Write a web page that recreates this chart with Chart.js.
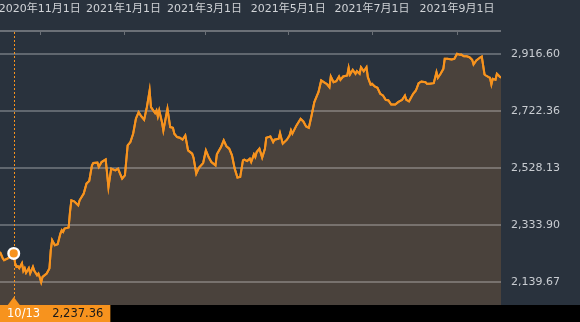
<!DOCTYPE html>
<html lang="ja">
<head>
<meta charset="utf-8">
<title>chart</title>
<script src="https://cdn.jsdelivr.net/npm/chart.js@4.4.1/dist/chart.umd.min.js"></script>
<style>
  html, body { margin: 0; padding: 0; background: #29323d; }
  canvas { display: block; }
</style>
</head>
<body>
<canvas id="grafico" width="580" height="322"></canvas>
<script>
// dados (data, valor)
const dates = [
  "2020-10-03","2020-10-05","2020-10-06","2020-10-09","2020-10-13","2020-10-14","2020-10-15","2020-10-16","2020-10-17","2020-10-19",
  "2020-10-20","2020-10-21","2020-10-22","2020-10-24","2020-10-25","2020-10-27","2020-10-28","2020-10-30","2020-10-31","2020-11-01",
  "2020-11-02","2020-11-03","2020-11-06","2020-11-08","2020-11-09","2020-11-10","2020-11-12","2020-11-14","2020-11-16","2020-11-17",
  "2020-11-18","2020-11-19","2020-11-22","2020-11-23","2020-11-24","2020-11-26","2020-11-29","2020-11-30","2020-12-03","2020-12-05",
  "2020-12-07","2020-12-09","2020-12-10","2020-12-13","2020-12-14","2020-12-16","2020-12-19","2020-12-21","2020-12-23","2020-12-26",
  "2020-12-28","2020-12-29","2020-12-31","2021-01-02","2021-01-03","2021-01-04","2021-01-06","2021-01-08","2021-01-10","2021-01-12",
  "2021-01-14","2021-01-16","2021-01-18","2021-01-20","2021-01-21","2021-01-24","2021-01-25","2021-01-26","2021-01-27","2021-01-29",
  "2021-01-30","2021-02-02","2021-02-04","2021-02-06","2021-02-07","2021-02-09","2021-02-11","2021-02-13","2021-02-15","2021-02-17",
  "2021-02-20","2021-02-21","2021-02-23","2021-02-25","2021-02-28","2021-03-02","2021-03-04","2021-03-06","2021-03-09","2021-03-10",
  "2021-03-13","2021-03-15","2021-03-17","2021-03-19","2021-03-21","2021-03-23","2021-03-25","2021-03-27","2021-03-29","2021-03-30",
  "2021-04-01","2021-04-03","2021-04-04","2021-04-06","2021-04-07","2021-04-08","2021-04-10","2021-04-12","2021-04-14","2021-04-15",
  "2021-04-18","2021-04-20","2021-04-21","2021-04-24","2021-04-25","2021-04-27","2021-04-30","2021-05-02","2021-05-03","2021-05-04",
  "2021-05-07","2021-05-10","2021-05-12","2021-05-14","2021-05-16","2021-05-18","2021-05-20","2021-05-22","2021-05-23","2021-05-25",
  "2021-05-28","2021-05-29","2021-05-31","2021-06-01","2021-06-03","2021-06-05","2021-06-07","2021-06-08","2021-06-10","2021-06-13",
  "2021-06-14","2021-06-15","2021-06-17","2021-06-19","2021-06-20","2021-06-22","2021-06-23","2021-06-25","2021-06-27","2021-06-28",
  "2021-06-30","2021-07-01","2021-07-03","2021-07-05","2021-07-07","2021-07-09","2021-07-11","2021-07-13","2021-07-15","2021-07-18",
  "2021-07-20","2021-07-23","2021-07-25","2021-07-26","2021-07-28","2021-07-29","2021-07-31","2021-08-02","2021-08-04","2021-08-06",
  "2021-08-09","2021-08-10","2021-08-12","2021-08-15","2021-08-17","2021-08-18","2021-08-20","2021-08-22","2021-08-23","2021-08-25",
  "2021-08-28","2021-08-30","2021-09-01","2021-09-03","2021-09-04","2021-09-06","2021-09-08","2021-09-10","2021-09-12","2021-09-13",
  "2021-09-15","2021-09-18","2021-09-19","2021-09-21","2021-09-22","2021-09-24","2021-09-25","2021-09-26","2021-09-27","2021-09-29",
  "2021-09-30","2021-10-02","2021-10-03"
];
const values = [
  2242.6, 2221.2, 2214.4, 2221.2, 2237.36, 2204.2, 2191.7, 2194.0, 2187.2, 2204.2,
  2178.1, 2187.2, 2171.3, 2187.2, 2169.2, 2191.7, 2178.1, 2163.4, 2169.2, 2155.6,
  2139.67, 2157.7, 2169.2, 2186.2, 2248.4, 2282.4, 2265.4, 2268.8, 2305.1, 2316.3,
  2310.6, 2322.1, 2325.5, 2378.5, 2418.2, 2414.8, 2401.2, 2418.2, 2441.0, 2475.0,
  2483.8, 2537.1, 2545.0, 2546.3, 2531.4, 2548.4, 2557.5, 2463.4, 2525.9, 2520.2,
  2525.9, 2514.4, 2492.0, 2503.2, 2554.1, 2605.1, 2616.3, 2644.8, 2695.8, 2718.2,
  2703.6, 2692.4, 2735.2, 2791.9, 2735.2, 2714.8, 2724.0, 2703.6, 2724.0, 2684.2,
  2656.0, 2729.8, 2667.3, 2665.2, 2644.8, 2633.3, 2631.2, 2624.5, 2639.1, 2588.1,
  2576.9, 2563.3, 2509.0, 2529.3, 2545.0, 2588.1, 2565.3, 2548.4, 2537.1, 2574.5,
  2599.3, 2622.1, 2601.7, 2593.9, 2571.1, 2525.9, 2495.4, 2497.4, 2554.1, 2556.5,
  2551.8, 2559.9, 2548.4, 2574.5, 2565.3, 2582.3, 2593.9, 2563.3, 2593.9, 2631.2,
  2635.7, 2616.3, 2624.5, 2627.8, 2646.9, 2610.9, 2624.5, 2639.1, 2656.0, 2644.8,
  2673.0, 2695.8, 2686.6, 2669.6, 2665.2, 2707.0, 2752.2, 2774.9, 2786.2, 2825.9,
  2816.7, 2814.7, 2803.1, 2839.5, 2820.1, 2823.5, 2839.5, 2828.3, 2839.5, 2842.9,
  2869.0, 2846.3, 2862.2, 2848.7, 2857.5, 2848.7, 2871.1, 2857.5, 2871.1, 2837.1,
  2812.3, 2814.7, 2805.5, 2801.1, 2780.7, 2774.9, 2760.3, 2758.0, 2744.4, 2744.4,
  2752.2, 2760.3, 2774.9, 2760.3, 2754.6, 2763.7, 2780.7, 2791.9, 2816.7, 2822.5,
  2820.1, 2814.7, 2814.7, 2816.7, 2854.1, 2835.1, 2848.7, 2865.6, 2899.6, 2899.6,
  2897.2, 2899.6, 2916.6, 2913.2, 2914.2, 2908.4, 2908.4, 2905.0, 2896.2, 2880.2,
  2893.8, 2905.0, 2907.4, 2846.3, 2842.9, 2837.1, 2835.1, 2812.3, 2831.7, 2828.3,
  2848.7, 2839.5, 2835.1
];

// rótulos dos eixos
const yTicks = [2139.67, 2333.90, 2528.13, 2722.36, 2916.60];
const xTickDates = ["2020-11-01", "2021-01-01", "2021-03-01", "2021-05-01", "2021-07-01", "2021-09-01"];
const markDate = "2020-10-13";

const laranja = "#f7931e";
const cinzaEixo = "#6b7077";

// converte "aaaa-mm-dd" em número de dias
function toDay(s) {
  const p = s.split("-");
  return Date.UTC(+p[0], +p[1] - 1, +p[2]) / 86400000;
}
function jpLabel(s) {
  const p = s.split("-");
  return `${+p[0]}年${+p[1]}月${+p[2]}日`;
}
function fmt(v) {
  return v.toLocaleString("en-US", { minimumFractionDigits: 2, maximumFractionDigits: 2 });
}

const pontos = dates.map((d, i) => ({ x: toDay(d), y: values[i] }));
const faixa = yTicks[yTicks.length - 1] - yTicks[0];

Chart.defaults.font.family = "'DejaVu Sans', 'Noto Sans CJK JP', sans-serif";
Chart.defaults.font.size = 11;

// fundo escuro
const fundo = {
  id: "fundo",
  beforeDraw(chart) {
    const ctx = chart.ctx;
    ctx.save();
    ctx.fillStyle = "#29323d";
    ctx.fillRect(0, 0, chart.width, chart.height);
    ctx.restore();
  }
};

// linha por cima da grade, eixo superior, cursor e etiqueta embaixo
const destaque = {
  id: "destaque",
  afterDraw(chart) {
    const { ctx, chartArea, scales } = chart;
    const area = chartArea;
    const largArea = area.right - area.left;

    ctx.save();
    ctx.beginPath();
    ctx.rect(area.left, area.top - 2, largArea, area.bottom - area.top + 2);
    ctx.clip();
    chart.getDatasetMeta(0).dataset.draw(ctx, area);
    ctx.restore();

    // linha do eixo x (só na largura da área) e marquinhas para dentro
    ctx.save();
    ctx.beginPath();
    ctx.rect(area.left, 0, largArea, area.top + 6);
    ctx.clip();
    ctx.fillStyle = cinzaEixo;
    ctx.fillRect(area.left, Math.round(area.top) - 1, largArea, 2);
    scales.x.ticks.forEach((t) => {
      const tx = Math.round(scales.x.getPixelForValue(t.value));
      ctx.fillRect(tx, Math.round(area.top) + 1, 1, 3);
    });
    ctx.restore();

    const i = dates.indexOf(markDate);
    const px = scales.x.getPixelForValue(toDay(markDate));
    const py = scales.y.getPixelForValue(values[i]);
    const lx = Math.round(px) + 0.5;

    // linha pontilhada vertical
    ctx.save();
    ctx.strokeStyle = laranja;
    ctx.lineWidth = 1;
    ctx.setLineDash([2, 2]);
    ctx.beginPath();
    ctx.moveTo(lx, area.top + 1);
    ctx.lineTo(lx, area.bottom);
    ctx.stroke();
    ctx.restore();

    // faixa preta embaixo
    ctx.save();
    ctx.fillStyle = "#000";
    ctx.fillRect(0, area.bottom, chart.width, chart.height - area.bottom);

    // triângulo apontando o cursor
    ctx.fillStyle = laranja;
    ctx.beginPath();
    ctx.moveTo(px - 6, area.bottom);
    ctx.lineTo(px + 6, area.bottom);
    ctx.lineTo(px, area.bottom - 8);
    ctx.closePath();
    ctx.fill();

    // caixa com data e valor
    const p = markDate.split("-");
    const txtData = `${+p[1]}/${+p[2]}`;
    const txtValor = fmt(values[i]);
    ctx.font = "11.5px 'DejaVu Sans', sans-serif";
    const w1 = ctx.measureText(txtData).width;
    const w2 = ctx.measureText(txtValor).width;
    const largura = 7 + w1 + 12 + w2 + 7;
    ctx.fillRect(0, area.bottom, largura, chart.height - area.bottom);
    ctx.textBaseline = "middle";
    const ty = area.bottom + (chart.height - area.bottom) / 2 + 1;
    ctx.fillStyle = "#ffffff";
    ctx.fillText(txtData, 7, ty);
    ctx.fillStyle = "#1a1a1a";
    ctx.fillText(txtValor, 7 + w1 + 12, ty);
    ctx.restore();

    // marcador
    ctx.save();
    ctx.beginPath();
    ctx.arc(px, py, 5.3, 0, Math.PI * 2);
    ctx.fillStyle = laranja;
    ctx.fill();
    ctx.lineWidth = 2.4;
    ctx.strokeStyle = "#ffffff";
    ctx.stroke();
    ctx.restore();
  }
};

const ctx = document.getElementById("grafico").getContext("2d");

new Chart(ctx, {
  type: "line",
  data: {
    datasets: [
      {
        data: pontos,
        borderColor: laranja,
        borderWidth: 2,
        backgroundColor: "#4a423c",
        fill: "start",
        pointRadius: 0,
        pointHoverRadius: 0,
        tension: 0
      }
    ]
  },
  options: {
    responsive: false,
    animation: false,
    events: [],
    layout: { padding: { left: 0, right: 0, top: 0, bottom: 17 } },
    plugins: {
      legend: { display: false },
      tooltip: { enabled: false }
    },
    scales: {
      x: {
        type: "linear",
        position: "top",
        min: pontos[0].x,
        max: pontos[pontos.length - 1].x,
        grid: { display: false },
        border: { display: false },
        afterBuildTicks: (scale) => {
          scale.ticks = xTickDates.map((d) => ({ value: toDay(d) }));
        },
        afterFit: (scale) => {
          scale.height = 31;
          scale.paddingLeft = 0;
          scale.paddingRight = 0;
        },
        ticks: {
          autoSkip: false,
          maxRotation: 0,
          minRotation: 0,
          padding: 7,
          color: "#d0d3d7",
          callback: (v, i) => jpLabel(xTickDates[i])
        }
      },
      y: {
        position: "right",
        min: yTicks[0] - faixa * 0.1,
        max: yTicks[yTicks.length - 1] + faixa * 0.1,
        grid: {
          color: "rgba(255,255,255,0.26)",
          lineWidth: 2,
          drawTicks: false,
          z: 1
        },
        border: { display: false },
        afterBuildTicks: (scale) => {
          scale.ticks = yTicks.map((v) => ({ value: v }));
        },
        afterFit: (scale) => {
          scale.width = 79;
          scale.paddingTop = 0;
          scale.paddingBottom = 0;
        },
        ticks: {
          padding: 10,
          color: "#c9cdd2",
          callback: (v) => fmt(v)
        }
      }
    }
  },
  plugins: [fundo, destaque]
});
</script>
</body>
</html>
